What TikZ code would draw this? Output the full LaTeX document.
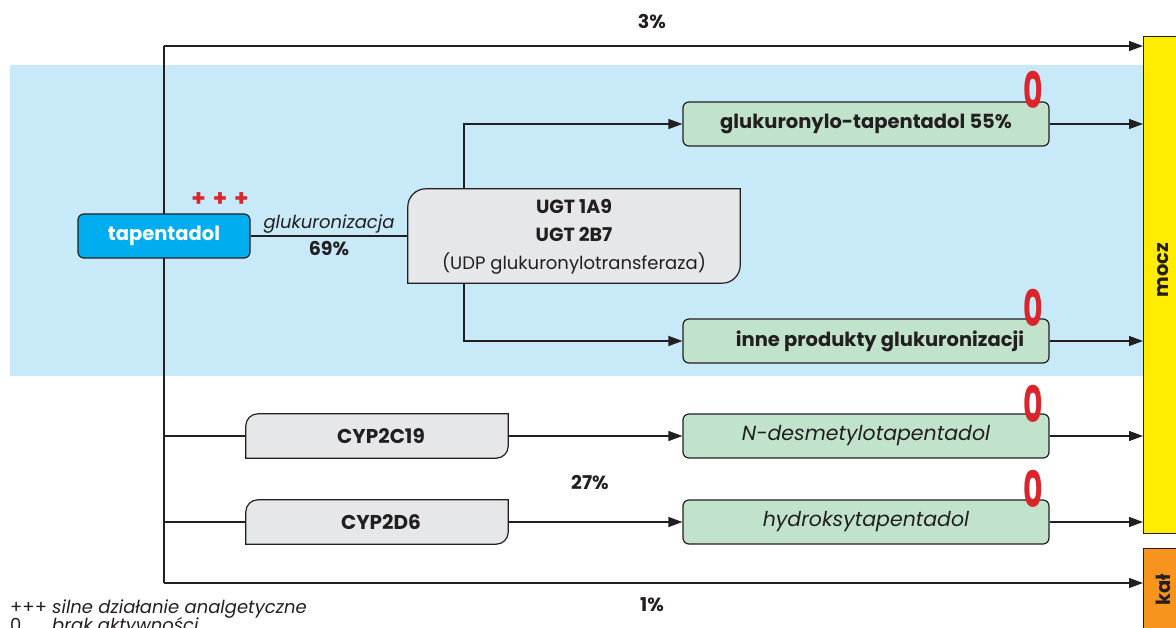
\documentclass[tikz,border=0pt]{standalone}
\usepackage{fontspec}
\setmainfont{Poppins}
\usepackage{graphicx}
\usetikzlibrary{arrows.meta,calc}
\definecolor{bgblue}{HTML}{C7E9F8}
\definecolor{tapc}{HTML}{00AEEF}
\definecolor{grayc}{HTML}{E6E7E8}
\definecolor{greenc}{HTML}{C1E3CB}
\definecolor{yelc}{HTML}{FFEC00}
\definecolor{orc}{HTML}{F7941D}
\definecolor{linec}{HTML}{231F20}
\definecolor{redc}{HTML}{D9252B}
\tikzset{
  conn/.style={draw=linec, line width=1.2pt},
  arr/.style={conn, -{Triangle[length=14pt,width=10pt]}},
  greenbox/.style={rectangle, rounded corners=6pt, fill=greenc, draw=linec, line width=1.2pt,
     minimum width=366pt, minimum height=44pt, font=\fontsize{19.5}{22}\selectfont\bfseries, text=linec},
  greenit/.style={greenbox, font=\fontsize{20.5}{22}\selectfont\itshape},
  enz/.style={rectangle, minimum width=262pt, minimum height=44pt, font=\fontsize{20}{22}\selectfont\bfseries, text=linec},
  enzline/.style={fill=grayc, draw=linec, line width=1.2pt},
  bar/.style={rectangle, draw=linec, line width=1.2pt, anchor=north west, minimum width=36pt},
  zero/.style={text=redc, inner sep=0pt, font=\fontsize{50}{50}\selectfont\bfseries},
  pct/.style={font=\fontsize{19}{22}\selectfont\bfseries, text=linec},
  legend/.style={anchor=base west, inner sep=0pt, font=\fontsize{18}{20}\selectfont, text=linec},
}
\begin{document}
\begin{tikzpicture}[x=1pt,y=1pt]
\useasboundingbox (0,0) rectangle (1176,-628);
\fill[bgblue] (10,-65) rectangle (1143,-376);
% bars
\node[bar, fill=yelc, minimum height=497pt] (mocz) at (1143,-36) {};
\node[bar, fill=orc, minimum height=90pt] (kal) at (1143,-548) {};
\node[rotate=90, font=\fontsize{19.5}{22}\selectfont\bfseries, text=linec] (moczt) at (1163,-270) {mocz};
\node[rotate=90, font=\fontsize{19.5}{22}\selectfont\bfseries, text=linec] (kalt) at (1163,-590) {kał};
% main line
\coordinate (top) at (164,-46);
\coordinate (bot) at (164,-583);
\coordinate (j1) at (164,-436);
\coordinate (j2) at (164,-522);
\draw[conn] (top) -- (bot);
\draw[arr] (top) -- (top -| mocz.west);
\draw[arr] (bot) -- (bot -| kal.west);
\node[pct] (p3) at (652,-22) {3\%};
\node[pct] (p1) at (652,-605) {1\%};
% tapentadol
\node[rectangle, rounded corners=6pt, fill=tapc, draw=linec, line width=1.2pt, minimum width=172pt, minimum height=44pt,
  text=white, font=\fontsize{19.5}{22}\selectfont\bfseries] (tap) at (164,-236) {tapentadol};
\node[text=redc, font=\fontsize{23}{24}\selectfont\bfseries] (plus) at (220,-200) {+\hspace{7pt}+\hspace{7pt}+};
% UGT
\node[rectangle, minimum width=332pt, minimum height=94pt, inner sep=0pt] (ugt) at (574,-236) {};
\draw[enzline] (ugt.south west) -- ([yshift=-18pt]ugt.north west) arc[start angle=180, end angle=90, radius=18pt]
  -- (ugt.north east) -- ([yshift=18pt]ugt.south east) arc[start angle=0, end angle=-90, radius=18pt] -- cycle;
\node[align=center, text=linec, inner sep=0pt, font=\fontsize{19}{28}\selectfont] (ugtt) at ([yshift=-1pt]ugt.center)
  {\bfseries UGT 1A9\\ \bfseries UGT 2B7\\ \fontsize{18}{28}\selectfont (UDP glukuronylotransferaza)};
\draw[conn] (tap.east) -- (ugt.west);
\node[font=\fontsize{18}{20}\selectfont\itshape, text=linec] (gl) at (329,-224) {glukuronizacja};
\node[pct] (p69) at (329,-249) {69\%};
% green boxes
\node[greenbox] (g1) at (866,-124) {glukuronylo-tapentadol 55\%};
\node[greenbox] (g2) at (866,-341) {\hspace*{28pt}inne produkty glukuronizacji};
\node[greenit] (g3) at (866,-436) {N-desmetylotapentadol};
\node[greenit] (g4) at (866,-522) {hydroksytapentadol};
\coordinate (b1) at (464,-189);
\coordinate (b2) at (464,-283);
\draw[arr] (b1) |- (g1.west);
\draw[arr] (b2) |- (g2.west);
% CYP
\node[enz] (c1) at (377,-436) {};
\node[enz] (c2) at (377,-522) {};
\foreach \c/\t in {c1/CYP2C19, c2/CYP2D6}{
  \draw[enzline] (\c.south west) -- ([yshift=-12pt]\c.north west) arc[start angle=180, end angle=90, radius=12pt]
    -- (\c.north east) -- ([yshift=12pt]\c.south east) arc[start angle=0, end angle=-90, radius=12pt] -- cycle;
  \node[enz] at ([xshift=4pt]\c.center) {\t};
}
\draw[conn] (j1) -- (c1.west);
\draw[conn] (j2) -- (c2.west);
\draw[arr] (c1.east) -- (g3.west);
\draw[arr] (c2.east) -- (g4.west);
\node[pct] (p27) at (590,-483) {27\%};
% outputs
\foreach \g in {g1,g2,g3,g4}{ \draw[arr] (\g.east) -- (\g.east -| mocz.west); }
% zeros
\foreach \y/\n in {-90/z1,-308/z2,-404/z3,-489/z4}{
  \node[zero] (\n) at (1033,\y) {\scalebox{0.6}[1]{0}};
}
% legend
\node[legend] (l1a) at (10,-613) {+++};
\node[legend, font=\fontsize{18}{20}\selectfont\itshape] (l1b) at (52,-613) {silne działanie analgetyczne};
\node[legend] (l2a) at (10,-631) {0};
\node[legend, font=\fontsize{18}{20}\selectfont\itshape] (l2b) at (52,-631) {brak aktywności};
\end{tikzpicture}
\end{document}
